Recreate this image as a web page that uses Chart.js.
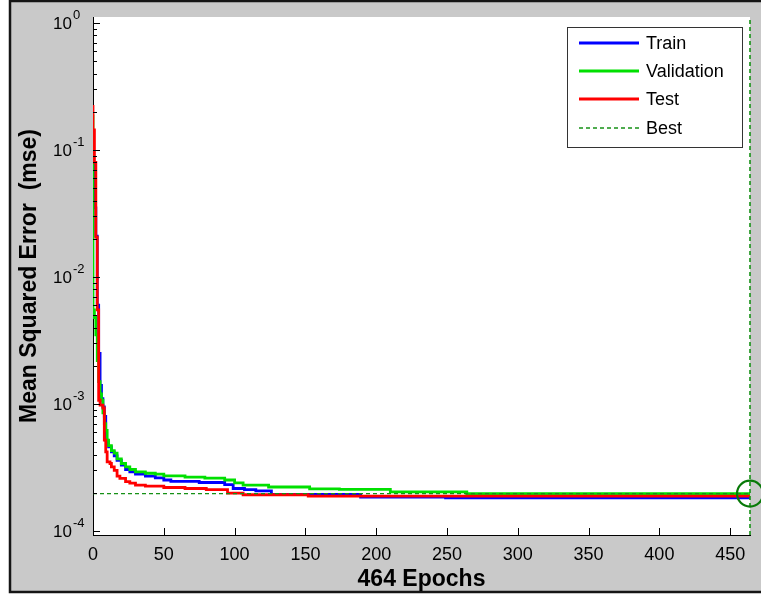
<!DOCTYPE html>
<html>
<head>
<meta charset="utf-8">
<script src="https://cdn.jsdelivr.net/npm/chart.js@4/dist/chart.umd.min.js"></script>
<style>
  html, body { margin: 0; padding: 0; background: #fff; overflow: hidden; }
  canvas { display: block; }
</style>
</head>
<body>
<canvas id="perf" width="761" height="601"></canvas>
<script>
// Training record: epoch at which each value starts, and the mean squared error from there on
const trainEpochs = [0, 1, 2, 3, 4, 5, 6, 7, 8, 9, 10, 11, 13, 15, 17, 20, 23, 26, 30, 37, 44, 50, 55, 75, 93, 99, 107, 115, 126, 189, 249, 399, 464];
const trainMse    = [0.085, 0.08, 0.035, 0.021, 0.006, 0.0025, 0.0014, 0.0011, 0.00095, 0.0008, 0.00052, 0.00048, 0.00046, 0.00042, 0.00039, 0.00036, 0.00033, 0.000305, 0.000292, 0.00028, 0.00027, 0.000262, 0.000252, 0.000246, 0.000241, 0.000232, 0.000216, 0.000212, 0.000207, 0.000194, 0.000185, 0.000182, 0.000182];

const valEpochs = [0, 1, 2, 3, 4, 5, 6, 7, 8, 9, 10, 11, 13, 15, 17, 20, 23, 26, 30, 37, 44, 50, 65, 79, 93, 100, 106, 124, 153, 174, 210, 264, 384, 464];
const valMse    = [0.19, 0.0055, 0.0048, 0.0035, 0.0022, 0.0015, 0.0012, 0.00107, 0.00085, 0.0007, 0.00062, 0.00052, 0.00047, 0.00043, 0.00041, 0.00037, 0.00034, 0.00032, 0.000305, 0.000292, 0.000285, 0.00028, 0.000272, 0.000266, 0.000261, 0.000252, 0.000239, 0.00023, 0.000222, 0.000215, 0.000213, 0.000203, 0.000197, 0.000197];

const testEpochs = [0, 1, 2, 3, 4, 5, 7, 8, 9, 10, 12, 13, 15, 17, 19, 23, 26, 30, 37, 50, 65, 80, 95, 106, 152, 384, 464];
const testMse    = [0.226, 0.144, 0.08, 0.0206, 0.0055, 0.00107, 0.00098, 0.00093, 0.00052, 0.00042, 0.00035, 0.00034, 0.00032, 0.0003, 0.00027, 0.00026, 0.000245, 0.000238, 0.00023, 0.000226, 0.00022, 0.000216, 0.000212, 0.000199, 0.000193, 0.000188, 0.000188];

// Best validation performance
const bestEpoch = 464;
const bestMse = 0.000197;

// Axis settings and tick labels
const epochMax = 464;
const xTickValues = [0, 50, 100, 150, 200, 250, 300, 350, 400, 450];
const yDecadeExponents = [0, -1, -2, -3, -4];
const mseMin = 9.3e-5;
const mseMax = 1.115;

const xTitle = '464 Epochs';
const yTitle = 'Mean Squared Error  (mse)';
const legendItems = ['Train', 'Validation', 'Test', 'Best'];

const FONT = '"Liberation Sans", Arial, sans-serif';
const toPoints = (xs, ys) => xs.map((x, i) => ({ x, y: ys[i] }));

const COLORS = { train: '#0000ff', val: '#00e000', test: '#ff0000', best: '#169116', circle: '#087a08' };

// Gray figure panel, white axes box, inward tick marks, decade labels and legend
const framePlugin = {
  id: 'frame',
  beforeDraw(chart) {
    const { ctx, chartArea: a } = chart;
    ctx.save();
    ctx.fillStyle = '#fff';
    ctx.fillRect(0, 0, chart.width, chart.height);
    ctx.fillStyle = '#c9c9c9';
    ctx.fillRect(10, 1, chart.width - 10, 591);
    ctx.strokeStyle = '#151515';
    ctx.lineWidth = 2.5;
    ctx.strokeRect(10, 1, chart.width + 10, 591);
    ctx.fillStyle = '#fff';
    ctx.fillRect(a.left, a.top, a.right - a.left, a.bottom - a.top);
    ctx.restore();
  },
  afterDraw(chart) {
    const { ctx, chartArea: a, scales } = chart;
    const xs = scales.x, ys = scales.y;
    ctx.save();
    ctx.strokeStyle = '#000';
    ctx.lineWidth = 1;
    ctx.beginPath();
    xTickValues.forEach(v => {
      if (v === 0) return;
      const px = Math.round(xs.getPixelForValue(v)) + 0.5;
      ctx.moveTo(px, a.bottom);
      ctx.lineTo(px, a.bottom - 7);
    });
    for (let e = -5; e <= 0; e++) {
      for (let m = 1; m <= 9; m++) {
        const v = m * Math.pow(10, e);
        if (v < mseMin || v > mseMax) continue;
        const py = Math.round(ys.getPixelForValue(v)) + 0.5;
        ctx.moveTo(a.left, py);
        ctx.lineTo(a.left + (m === 1 ? 7 : 4), py);
      }
    }
    ctx.stroke();

    // decade labels 10^n
    ctx.fillStyle = '#000';
    ctx.textBaseline = 'middle';
    yDecadeExponents.forEach(e => {
      const py = ys.getPixelForValue(Math.pow(10, e));
      ctx.font = '17px ' + FONT;
      ctx.textAlign = 'right';
      ctx.fillText('10', 72, py + 1);
      ctx.font = '13px ' + FONT;
      ctx.textAlign = 'left';
      ctx.fillText(String(e), 73, py - 8);
    });

    // legend
    const lx = 567, ly = 27, lw = 175, lh = 120;
    ctx.fillStyle = '#fff';
    ctx.fillRect(lx, ly, lw, lh);
    ctx.strokeStyle = '#333';
    ctx.lineWidth = 1;
    ctx.strokeRect(lx + 0.5, ly + 0.5, lw, lh);
    const rows = [43, 71, 99, 128];
    const legendColors = [COLORS.train, COLORS.val, COLORS.test, COLORS.best];
    legendItems.forEach((label, i) => {
      const y = rows[i];
      ctx.beginPath();
      ctx.strokeStyle = legendColors[i];
      if (i === 3) { ctx.lineWidth = 1.5; ctx.setLineDash([4, 3]); }
      else { ctx.lineWidth = 3; ctx.setLineDash([]); }
      ctx.moveTo(579, y);
      ctx.lineTo(639, y);
      ctx.stroke();
      ctx.setLineDash([]);
      ctx.fillStyle = '#000';
      ctx.font = '18px ' + FONT;
      ctx.textAlign = 'left';
      ctx.textBaseline = 'middle';
      ctx.fillText(label, 646, y + 1);
    });
    ctx.restore();
  }
};

const lineStyle = { stepped: 'after', pointRadius: 0, borderWidth: 2.8, fill: false };

new Chart(document.getElementById('perf'), {
  type: 'line',
  data: {
    datasets: [
      { label: 'Train', data: toPoints(trainEpochs, trainMse), borderColor: COLORS.train, order: 5, ...lineStyle },
      { label: 'Validation', data: toPoints(valEpochs, valMse), borderColor: COLORS.val, order: 4, ...lineStyle },
      { label: 'Test', data: toPoints(testEpochs, testMse), borderColor: COLORS.test, order: 3, ...lineStyle },
      { label: 'Best', data: [{ x: 0, y: bestMse }, { x: epochMax, y: bestMse }], borderColor: COLORS.best, borderWidth: 1.4, borderDash: [4, 3], pointRadius: 0, order: 2 },
      { label: 'Best epoch', data: [{ x: bestEpoch, y: mseMin }, { x: bestEpoch, y: mseMax }], borderColor: COLORS.best, borderWidth: 1.6, borderDash: [4, 3], pointRadius: 0, clip: false, order: 2 },
      { label: 'Best point', data: [{ x: bestEpoch, y: bestMse }], showLine: false, pointRadius: 13, pointBorderWidth: 2.2, pointBorderColor: COLORS.circle, pointBackgroundColor: 'rgba(0,0,0,0)', clip: false, order: 1 }
    ]
  },
  options: {
    responsive: false,
    animation: false,
    events: [],
    layout: { autoPadding: false, padding: { left: 0, top: 17, right: 11, bottom: 0 } },
    plugins: { legend: { display: false }, tooltip: { enabled: false } },
    scales: {
      x: {
        type: 'linear', min: 0, max: epochMax,
        grid: { display: false, drawTicks: false },
        border: { display: true, color: '#000', width: 1 },
        ticks: { autoSkip: false, maxRotation: 0, color: '#000', padding: 9, font: { family: FONT, size: 18 } },
        afterBuildTicks: s => { s.ticks = xTickValues.map(v => ({ value: v })); },
        afterFit: s => { s.height = 66; s.paddingLeft = 0; s.paddingRight = 0; },
        title: { display: true, text: xTitle, color: '#000', font: { family: FONT, size: 23, weight: 'bold' }, padding: { top: 0, bottom: 8 } }
      },
      y: {
        type: 'logarithmic', min: mseMin, max: mseMax,
        grid: { display: false, drawTicks: false },
        border: { display: true, color: '#000', width: 1 },
        ticks: { display: false },
        afterFit: s => { s.width = 93; s.paddingTop = 0; s.paddingBottom = 0; },
        title: { display: true, text: yTitle, color: '#000', font: { family: FONT, size: 23, weight: 'bold' }, padding: { top: 16, bottom: 0 } }
      }
    }
  },
  plugins: [framePlugin]
});
</script>
</body>
</html>
